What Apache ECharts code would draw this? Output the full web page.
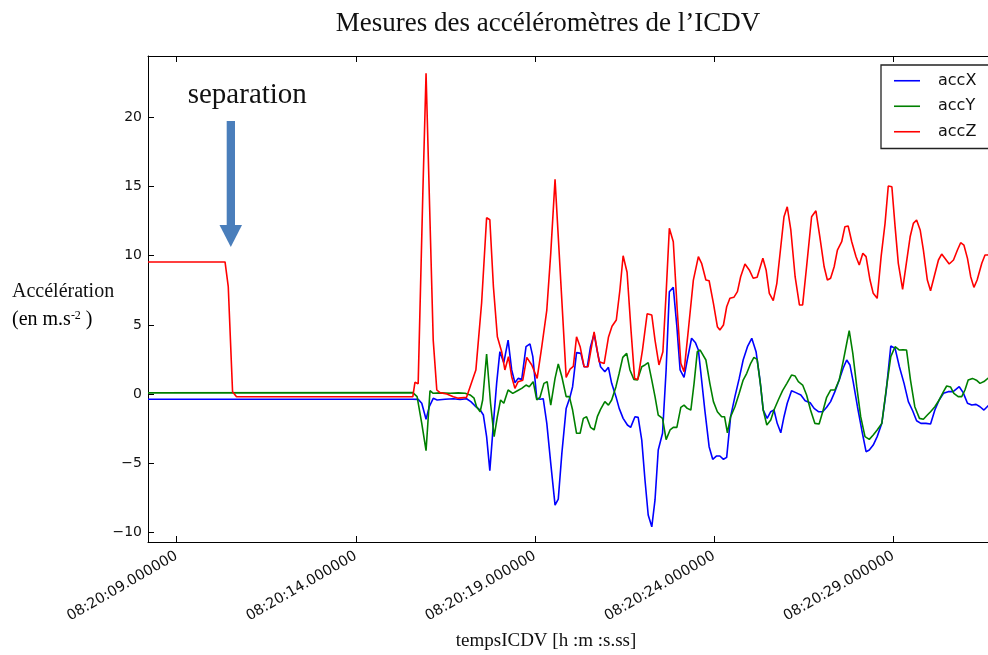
<!DOCTYPE html>
<html><head><meta charset="utf-8">
<script src="https://cdn.jsdelivr.net/npm/echarts@6/dist/echarts.min.js"></script>
<style>html,body{margin:0;padding:0;background:#fff}#c{width:988px;height:655px}</style>
</head><body><div id="c"></div>
<script>
// Time in seconds after 08:20:00
const xTicks = [9, 14, 19, 24, 29];
const yTicks = [-10, -5, 0, 5, 10, 15, 20];
const seriesNames = ['accX', 'accY', 'accZ'];

const accX = [[8.20,-0.38],[15.59,-0.38],[15.74,-0.39],[15.84,-0.67],[15.96,-1.83],[16.05,-0.92],[16.16,-0.31],[16.27,-0.43],[16.49,-0.38],[16.72,-0.34],[16.91,-0.4],[17.09,-0.34],[17.21,-0.55],[17.33,-0.87],[17.47,-1.16],[17.56,-1.52],[17.65,-3.08],[17.74,-5.54],[17.84,-2.12],[17.93,0.77],[18.02,3.06],[18.13,2.27],[18.25,3.9],[18.35,1.74],[18.44,0.82],[18.53,1.13],[18.63,1.06],[18.75,3.42],[18.86,3.62],[18.94,2.7],[19.05,-0.31],[19.14,-0.38],[19.23,-0.34],[19.33,-2.12],[19.44,-5.01],[19.56,-8.03],[19.65,-7.6],[19.75,-4.29],[19.87,-1.04],[19.98,-0.19],[20.05,0.53],[20.16,2.99],[20.28,2.94],[20.37,1.97],[20.46,1.97],[20.55,3.42],[20.65,4.34],[20.74,3.06],[20.83,1.97],[20.95,1.61],[21.05,1.93],[21.14,0.77],[21.26,-0.19],[21.35,-1.04],[21.46,-1.76],[21.58,-2.24],[21.67,-2.41],[21.79,-1.64],[21.88,-1.69],[21.98,-3.33],[22.07,-6.22],[22.16,-8.75],[22.26,-9.6],[22.35,-7.66],[22.44,-4.05],[22.56,-2.84],[22.66,1.74],[22.75,7.4],[22.86,7.71],[22.96,4.87],[23.05,1.74],[23.16,1.2],[23.25,2.46],[23.37,4.03],[23.48,3.7],[23.56,3.18],[23.62,1.74],[23.74,-1.16],[23.86,-3.81],[23.96,-4.72],[24.07,-4.48],[24.16,-4.48],[24.26,-4.72],[24.35,-4.58],[24.46,-1.64],[24.58,-0.19],[24.70,1.13],[24.81,2.46],[24.93,3.42],[25.05,4.03],[25.17,3.06],[25.28,1.01],[25.37,-1.16],[25.48,-1.76],[25.58,-1.28],[25.67,-1.16],[25.76,-2.12],[25.86,-2.8],[25.95,-1.64],[26.04,-0.67],[26.16,0.24],[26.28,0.1],[26.42,-0.07],[26.54,-0.48],[26.68,-0.63],[26.79,-1.04],[26.91,-1.28],[27.03,-1.28],[27.14,-0.96],[27.25,-0.55],[27.37,0.17],[27.49,1.01],[27.60,1.86],[27.70,2.46],[27.79,2.1],[27.88,0.89],[28.00,-0.92],[28.12,-2.6],[28.24,-4.17],[28.33,-4.05],[28.44,-3.69],[28.55,-3.08],[28.68,-2.12],[28.80,0.17],[28.93,3.47],[29.05,3.3],[29.17,1.97],[29.30,0.77],[29.42,-0.55],[29.54,-1.21],[29.65,-1.93],[29.77,-2.12],[29.91,-2.12],[30.04,-2.17],[30.16,-1.16],[30.28,-0.43],[30.40,0.05],[30.53,0.17],[30.67,0.17],[30.84,0.53],[30.95,0.1],[31.07,-0.67],[31.19,-0.8],[31.31,-0.75],[31.42,-0.92],[31.53,-1.16],[31.64,-0.87],[31.75,-0.7]];

const accY = [[8.20,0.08],[15.59,0.1],[15.60,0.2],[15.71,-0.19],[15.84,-2.12],[15.96,-4.1],[16.07,0.24],[16.16,0.05],[16.35,0.08],[16.63,0.05],[16.86,0.08],[17.05,0.05],[17.19,-0.07],[17.30,-0.3],[17.37,-0.92],[17.47,-1.28],[17.54,-0.43],[17.65,2.89],[17.76,-0.67],[17.86,-3.08],[17.95,-1.64],[18.04,-0.43],[18.13,-0.67],[18.25,0.29],[18.38,0.05],[18.51,0.24],[18.63,0.41],[18.75,0.65],[18.84,0.53],[18.95,0.89],[19.05,-0.43],[19.14,-0.24],[19.25,0.77],[19.34,0.89],[19.44,-0.8],[19.56,1.13],[19.65,2.17],[19.75,1.25],[19.87,-0.19],[19.96,-0.19],[20.05,-1.16],[20.16,-2.84],[20.26,-2.84],[20.35,-1.76],[20.44,-1.64],[20.55,-2.41],[20.65,-2.6],[20.74,-1.64],[20.83,-1.11],[20.95,-0.55],[21.05,-0.8],[21.14,-0.43],[21.26,0.53],[21.35,1.5],[21.45,2.65],[21.56,2.94],[21.65,1.74],[21.76,1.06],[21.86,1.01],[21.98,1.97],[22.07,2.1],[22.16,2.27],[22.26,1.01],[22.35,-0.19],[22.44,-1.52],[22.56,-1.76],[22.66,-3.3],[22.77,-2.6],[22.86,-2.41],[22.96,-2.41],[23.07,-0.96],[23.16,-0.8],[23.25,-1.04],[23.35,-1.16],[23.44,0.77],[23.53,3.06],[23.61,3.18],[23.77,2.46],[23.88,0.77],[23.98,-0.55],[24.09,-1.28],[24.21,-1.64],[24.29,-1.64],[24.37,-2.8],[24.46,-1.64],[24.58,-0.92],[24.70,0.05],[24.81,1.01],[24.91,1.5],[25.02,2.22],[25.11,2.65],[25.20,2.5],[25.30,0.53],[25.37,-1.16],[25.47,-2.24],[25.58,-1.88],[25.67,-1.16],[25.79,-0.43],[25.91,0.24],[26.03,0.77],[26.16,1.37],[26.26,1.3],[26.35,0.89],[26.47,0.65],[26.58,-0.07],[26.69,-1.16],[26.81,-2.12],[26.93,-2.17],[27.03,-1.28],[27.14,-0.24],[27.25,0.29],[27.37,0.29],[27.49,1.01],[27.60,2.34],[27.70,3.67],[27.77,4.58],[27.87,2.94],[27.98,0.53],[28.09,-1.64],[28.21,-3.08],[28.33,-3.28],[28.44,-2.96],[28.55,-2.6],[28.68,-2.12],[28.80,0.29],[28.93,2.7],[29.05,3.42],[29.17,3.18],[29.27,3.2],[29.37,3.18],[29.48,1.01],[29.60,-0.92],[29.73,-1.76],[29.84,-1.83],[29.95,-1.52],[30.04,-1.28],[30.16,-0.92],[30.28,-0.43],[30.40,0.17],[30.49,0.58],[30.60,0.5],[30.69,0.05],[30.81,-0.19],[30.91,-0.19],[31.00,0.29],[31.09,1.01],[31.21,1.13],[31.32,1.0],[31.42,0.77],[31.53,0.9],[31.64,1.13],[31.75,1.2]];

const accZ = [[8.20,9.55],[10.35,9.55],[10.44,7.76],[10.56,0.17],[10.67,-0.2],[15.59,-0.2],[15.65,0.85],[15.74,0.75],[15.87,14.5],[15.96,23.2],[16.06,13.5],[16.16,3.9],[16.26,0.29],[16.35,0.1],[16.54,0.0],[16.72,-0.2],[16.86,-0.3],[17.09,-0.24],[17.19,0.53],[17.35,1.73],[17.51,6.56],[17.65,12.75],[17.74,12.6],[17.84,7.76],[17.95,4.14],[18.07,3.06],[18.16,1.74],[18.26,2.7],[18.35,1.25],[18.44,0.41],[18.53,0.89],[18.66,1.0],[18.77,2.65],[18.91,2.1],[19.06,1.13],[19.19,3.42],[19.33,6.07],[19.44,10.17],[19.56,15.52],[19.87,1.2],[19.98,1.8],[20.07,2.0],[20.16,4.14],[20.26,3.42],[20.37,1.97],[20.48,1.97],[20.65,4.5],[20.79,2.34],[20.93,2.2],[21.05,4.1],[21.15,4.9],[21.27,5.35],[21.37,7.52],[21.46,10.0],[21.57,8.8],[21.68,4.6],[21.78,1.13],[21.87,1.05],[22.00,3.18],[22.13,5.8],[22.26,5.71],[22.35,3.9],[22.46,2.1],[22.57,3.06],[22.66,7.28],[22.75,11.98],[22.86,11.01],[22.97,6.07],[23.07,2.22],[23.16,1.61],[23.28,4.63],[23.42,8.24],[23.56,9.93],[23.65,9.45],[23.77,8.24],[23.86,8.19],[23.98,6.56],[24.09,4.87],[24.16,4.63],[24.26,4.99],[24.35,6.31],[24.44,6.92],[24.55,6.99],[24.65,7.4],[24.74,8.48],[24.86,9.4],[24.98,8.97],[25.09,8.37],[25.20,8.44],[25.36,9.81],[25.45,8.97],[25.54,7.28],[25.65,6.75],[25.75,8.0],[25.86,10.65],[25.95,12.82],[26.04,13.54],[26.14,11.86],[26.26,8.48],[26.38,6.44],[26.47,6.44],[26.58,9.2],[26.72,12.82],[26.84,13.25],[26.95,11.37],[27.07,9.2],[27.16,8.24],[27.25,8.37],[27.35,9.2],[27.44,10.41],[27.56,11.01],[27.65,12.1],[27.74,12.15],[27.84,11.01],[27.96,9.93],[28.05,9.33],[28.15,10.17],[28.24,9.93],[28.35,8.24],[28.44,7.28],[28.55,6.92],[28.66,9.93],[28.77,12.34],[28.86,15.04],[28.96,14.99],[29.05,12.1],[29.14,9.45],[29.26,7.57],[29.35,9.2],[29.47,11.37],[29.56,12.34],[29.65,12.58],[29.75,11.86],[29.84,10.41],[29.95,8.24],[30.04,7.47],[30.14,8.48],[30.26,9.69],[30.35,10.12],[30.44,9.81],[30.56,9.4],[30.68,9.69],[30.79,10.41],[30.88,10.94],[30.97,10.77],[31.07,9.81],[31.16,8.48],[31.25,7.71],[31.34,8.24],[31.47,9.45],[31.56,10.05],[31.64,10.05],[31.75,10.2]];

const colors = ['#0000ff', '#008000', '#ff0000'];
const seriesData = [accX, accY, accZ];

function timeLabel(v) {
  return '08:20:' + String(v).padStart(2, '0') + '.000000';
}
function yLabel(v) {
  return v < 0 ? '\u2212' + Math.abs(v) : String(v);
}

const chart = echarts.init(document.getElementById('c'), null, {renderer: 'canvas'});
const serif = '"Liberation Serif", "DejaVu Serif", serif';
const sans = '"DejaVu Sans", sans-serif';
const X_MIN = 8.2, X_MAX = 31.643;

chart.setOption({
  animation: false,
  backgroundColor: '#ffffff',
  grid: {left: 148, top: 56, right: 0, bottom: 113, containLabel: false},
  legend: {
    orient: 'vertical',
    left: 881, top: 65,
    data: seriesNames,
    icon: 'rect',
    itemWidth: 26, itemHeight: 1.6,
    itemGap: 0,
    padding: [3, 40, 4, 13],
    borderColor: '#222', borderWidth: 1.3,
    backgroundColor: '#fff',
    textStyle: {fontFamily: sans, fontSize: 16, color: '#111', lineHeight: 25.5, padding: [0, 0, 0, 13]}
  },
  xAxis: [{
    type: 'value', position: 'bottom', min: X_MIN, max: X_MAX,
    axisLine: {show: true, onZero: false, lineStyle: {color: '#000', width: 1}},
    axisTick: {show: true, inside: true, length: 6, customValues: xTicks, lineStyle: {color: '#000'}},
    axisLabel: {customValues: xTicks, formatter: timeLabel, rotate: 30, margin: 13,
      fontFamily: sans, fontSize: 14.5, color: '#111'},
    splitLine: {show: false}
  }, {
    type: 'value', position: 'top', min: X_MIN, max: X_MAX,
    axisLine: {show: true, onZero: false, lineStyle: {color: '#000', width: 1}},
    axisTick: {show: true, inside: true, length: 6, customValues: xTicks, lineStyle: {color: '#000'}},
    axisLabel: {show: false},
    splitLine: {show: false}
  }],
  yAxis: {
    type: 'value', min: -10.7, max: 24.44,
    axisLine: {show: true, onZero: false, lineStyle: {color: '#000', width: 1}},
    axisTick: {show: true, inside: true, length: 6, customValues: yTicks, lineStyle: {color: '#000'}},
    axisLabel: {customValues: yTicks, formatter: yLabel, margin: 6, fontFamily: sans, fontSize: 14, color: '#111'},
    splitLine: {show: false}
  },
  series: seriesNames.map((n, i) => ({
    name: n, type: 'line', data: seriesData[i], showSymbol: false, symbol: 'none',
    color: colors[i], lineStyle: {color: colors[i], width: 1.6}, clip: true, z: 2 + i
  })),
  graphic: [
    {type: 'text', style: {text: 'Mesures des accéléromètres de l\u2019ICDV', x: 548, y: 23.5,
      align: 'center', verticalAlign: 'middle', font: '27px ' + serif, fill: '#111'}},
    {type: 'text', style: {text: 'separation', x: 187.7, y: 95, align: 'left', verticalAlign: 'middle',
      font: '29px ' + serif, fill: '#111'}},
    {type: 'text', style: {text: 'Accélération', x: 12, y: 292, align: 'left', verticalAlign: 'middle',
      font: '20px ' + serif, fill: '#111'}},
    {type: 'text', style: {text: '{a|(en m.s}{b|-2}{a| )}', x: 12, y: 319.5, align: 'left', verticalAlign: 'middle',
      rich: {a: {fontFamily: serif, fontSize: 20, color: '#111'},
             b: {fontFamily: serif, fontSize: 12, verticalAlign: 'top', color: '#111'}}}},
    {type: 'text', style: {text: 'tempsICDV [h :m :s.ss]', x: 546, y: 641.5, align: 'center', verticalAlign: 'middle',
      font: '19px ' + serif, fill: '#111'}},
    {type: 'rect', shape: {x: 226.7, y: 121, width: 8.3, height: 104}, style: {fill: '#4a7ebb'}, z: 10},
    {type: 'polygon', shape: {points: [[219.5, 225], [242, 225], [230.8, 247]]}, style: {fill: '#4a7ebb'}, z: 10}
  ]
});
</script>
</body></html>
